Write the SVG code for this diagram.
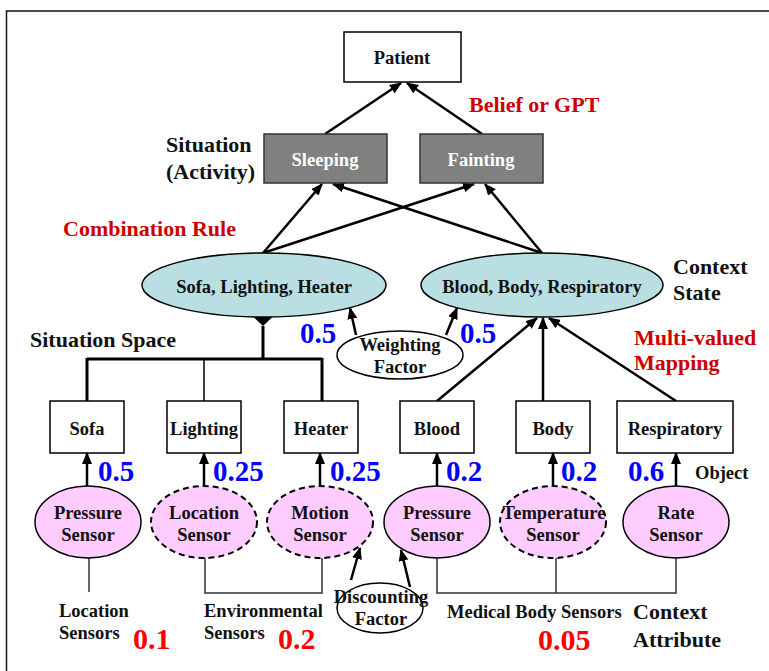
<svg xmlns="http://www.w3.org/2000/svg" width="769" height="671" viewBox="0 0 769 671" font-family="'Liberation Serif', 'Times New Roman', serif">
<defs>
<marker id="ah" markerUnits="userSpaceOnUse" markerWidth="12" markerHeight="10" refX="11" refY="5" orient="auto">
<path d="M0,0 L12,5 L0,10 z" fill="#000"/>
</marker>
<style>
text{font-family:"Liberation Serif","Times New Roman",serif;font-weight:bold;}
.n{font-size:18.5px;text-anchor:middle;fill:#111;}
.lbl{font-size:22px;fill:#111;}
.red{font-size:22px;fill:#cc0000;}
.blue{font-size:29px;fill:#0000ff;}
.rnum{font-size:30px;fill:#ff0000;}
.sm{font-size:18.5px;fill:#111;}
.box{fill:#fff;stroke:#000;stroke-width:1.5;}
.gbox{fill:#808080;stroke:#333;stroke-width:1.5;}
.cs{fill:#b9dfe2;stroke:#000;stroke-width:1.5;}
.sen{fill:#ffccff;stroke:#000;stroke-width:1.5;}
.dash{stroke-dasharray:6,4;stroke-width:2;}
.ar{stroke:#000;stroke-width:2.5;fill:none;marker-end:url(#ah);}
.tk{stroke:#000;stroke-width:3;fill:none;}
.tn{stroke:#333;stroke-width:1.5;fill:none;}
</style>
</defs>
<rect width="769" height="671" fill="#fff"/>
<path d="M6.5,671 V11 H769" fill="none" stroke="#111" stroke-width="1.5"/>

<g id="connectors">
<line class="ar" x1="325" y1="134" x2="401" y2="83"/>
<line class="ar" x1="482" y1="134" x2="407" y2="83"/>
<line class="ar" x1="263" y1="253" x2="322" y2="184"/>
<line class="ar" x1="542" y1="253" x2="333" y2="184"/>
<line class="ar" x1="263" y1="253" x2="474" y2="184"/>
<line class="ar" x1="542" y1="253" x2="485" y2="184"/>
<line class="ar" x1="356" y1="335" x2="350" y2="308"/>
<line class="ar" x1="446" y1="335" x2="457" y2="308"/>
<line class="ar" x1="437" y1="401" x2="537" y2="318"/>
<line class="ar" x1="543" y1="401" x2="543" y2="318"/>
<line class="ar" x1="676" y1="401" x2="549" y2="318"/>
<path class="tk" d="M263,326 V359 M87,359 H322 M87,358 V401 M322,358 V401"/>
<line x1="204" y1="359" x2="204" y2="401" stroke="#000" stroke-width="1.5"/>
<path d="M263,307 L273,316.5 L263,326 L253,316.5 z" fill="#000"/>
<line class="ar" x1="87" y1="486" x2="87" y2="453"/>
<line class="ar" x1="204" y1="486" x2="204" y2="453"/>
<line class="ar" x1="320" y1="486" x2="320" y2="453"/>
<line class="ar" x1="437" y1="486" x2="437" y2="453"/>
<line class="ar" x1="553" y1="486" x2="553" y2="453"/>
<line class="ar" x1="676" y1="486" x2="676" y2="453"/>
<path class="tn" d="M89,558 V592"/>
<path class="tn" d="M205,558 V593 H322 V558"/>
<path class="tn" d="M437,558 V593 H676 V558 M556,558 V593"/>
<line class="ar" x1="351" y1="580" x2="360" y2="548"/>
<line class="ar" x1="410" y1="587" x2="401" y2="550"/>
</g>

<g id="patient"><rect class="box" x="344" y="32" width="117" height="50"/><text class="n" x="402" y="64">Patient</text></g>
<g id="sleeping"><rect class="gbox" x="264" y="134" width="123" height="49"/><text class="n" x="325" y="166" style="fill:#fff">Sleeping</text></g>
<g id="fainting"><rect class="gbox" x="420" y="134" width="123" height="49"/><text class="n" x="481" y="166" style="fill:#fff">Fainting</text></g>

<g id="cs-home"><ellipse class="cs" cx="264" cy="285" rx="122" ry="32"/><text class="n" x="264" y="293">Sofa, Lighting, Heater</text></g>
<g id="cs-medical"><ellipse class="cs" cx="542" cy="285" rx="121" ry="32"/><text class="n" x="542" y="293">Blood, Body, Respiratory</text></g>
<g id="weighting"><ellipse fill="#fff" stroke="#000" stroke-width="1.5" cx="400" cy="355" rx="63" ry="24"/><text class="n" x="400" y="351">Weighting</text><text class="n" x="400" y="373">Factor</text></g>

<g id="sofa"><rect class="box" x="50" y="401" width="74" height="52"/><text class="n" x="87" y="435">Sofa</text></g>
<g id="lighting"><rect class="box" x="167" y="401" width="74" height="52"/><text class="n" x="204" y="435">Lighting</text></g>
<g id="heater"><rect class="box" x="284" y="401" width="74" height="52"/><text class="n" x="321" y="435">Heater</text></g>
<g id="blood"><rect class="box" x="400" y="401" width="74" height="52"/><text class="n" x="437" y="435">Blood</text></g>
<g id="body"><rect class="box" x="516" y="401" width="74" height="52"/><text class="n" x="553" y="435">Body</text></g>
<g id="respiratory"><rect class="box" x="617" y="401" width="116" height="52"/><text class="n" x="675" y="435">Respiratory</text></g>

<g id="pressure1"><ellipse class="sen" cx="88" cy="522" rx="53" ry="36"/><text class="n" x="88" y="519">Pressure</text><text class="n" x="88" y="541">Sensor</text></g>
<g id="location"><ellipse class="sen dash" cx="204" cy="522" rx="53" ry="36"/><text class="n" x="204" y="519">Location</text><text class="n" x="204" y="541">Sensor</text></g>
<g id="motion"><ellipse class="sen dash" cx="320" cy="522" rx="53" ry="36"/><text class="n" x="320" y="519">Motion</text><text class="n" x="320" y="541">Sensor</text></g>
<g id="pressure2"><ellipse class="sen" cx="437" cy="522" rx="53" ry="36"/><text class="n" x="437" y="519">Pressure</text><text class="n" x="437" y="541">Sensor</text></g>
<g id="temperature"><ellipse class="sen dash" cx="553" cy="522" rx="53" ry="36"/><text class="n" x="554" y="519">Temperature</text><text class="n" x="553" y="541">Sensor</text></g>
<g id="rate"><ellipse class="sen" cx="676" cy="522" rx="53" ry="36"/><text class="n" x="676" y="519">Rate</text><text class="n" x="676" y="541">Sensor</text></g>

<g id="discounting"><ellipse fill="#fff" stroke="#000" stroke-width="1.5" cx="380" cy="608" rx="43" ry="25"/><text class="n" x="381" y="603">Discounting</text><text class="n" x="381" y="625">Factor</text></g>

<g id="labels">
<text class="red" x="469" y="112">Belief or GPT</text>
<text class="lbl" x="166" y="152">Situation</text>
<text class="lbl" x="166" y="179">(Activity)</text>
<text class="red" x="63" y="236">Combination Rule</text>
<text class="lbl" x="673" y="274">Context</text>
<text class="lbl" x="673" y="300">State</text>
<text class="lbl" x="30" y="347">Situation Space</text>
<text class="blue" x="300" y="343">0.5</text>
<text class="blue" x="460" y="343">0.5</text>
<text class="red" x="634" y="345">Multi-valued</text>
<text class="red" x="634" y="370">Mapping</text>
<text class="blue" x="98" y="481">0.5</text>
<text class="blue" x="213" y="481">0.25</text>
<text class="blue" x="330" y="481">0.25</text>
<text class="blue" x="446" y="481">0.2</text>
<text class="blue" x="561" y="481">0.2</text>
<text class="blue" x="628" y="481">0.6</text>
<text class="sm" x="695" y="479">Object</text>
<text class="sm" x="59" y="617">Location</text>
<text class="sm" x="59" y="639">Sensors</text>
<text class="rnum" x="133" y="649">0.1</text>
<text class="sm" x="204" y="617">Environmental</text>
<text class="sm" x="204" y="639">Sensors</text>
<text class="rnum" x="278" y="649">0.2</text>
<text class="sm" x="447" y="618">Medical Body Sensors</text>
<text class="rnum" x="538" y="650">0.05</text>
<text class="lbl" x="633" y="619">Context</text>
<text class="lbl" x="633" y="647">Attribute</text>
</g>
</svg>
